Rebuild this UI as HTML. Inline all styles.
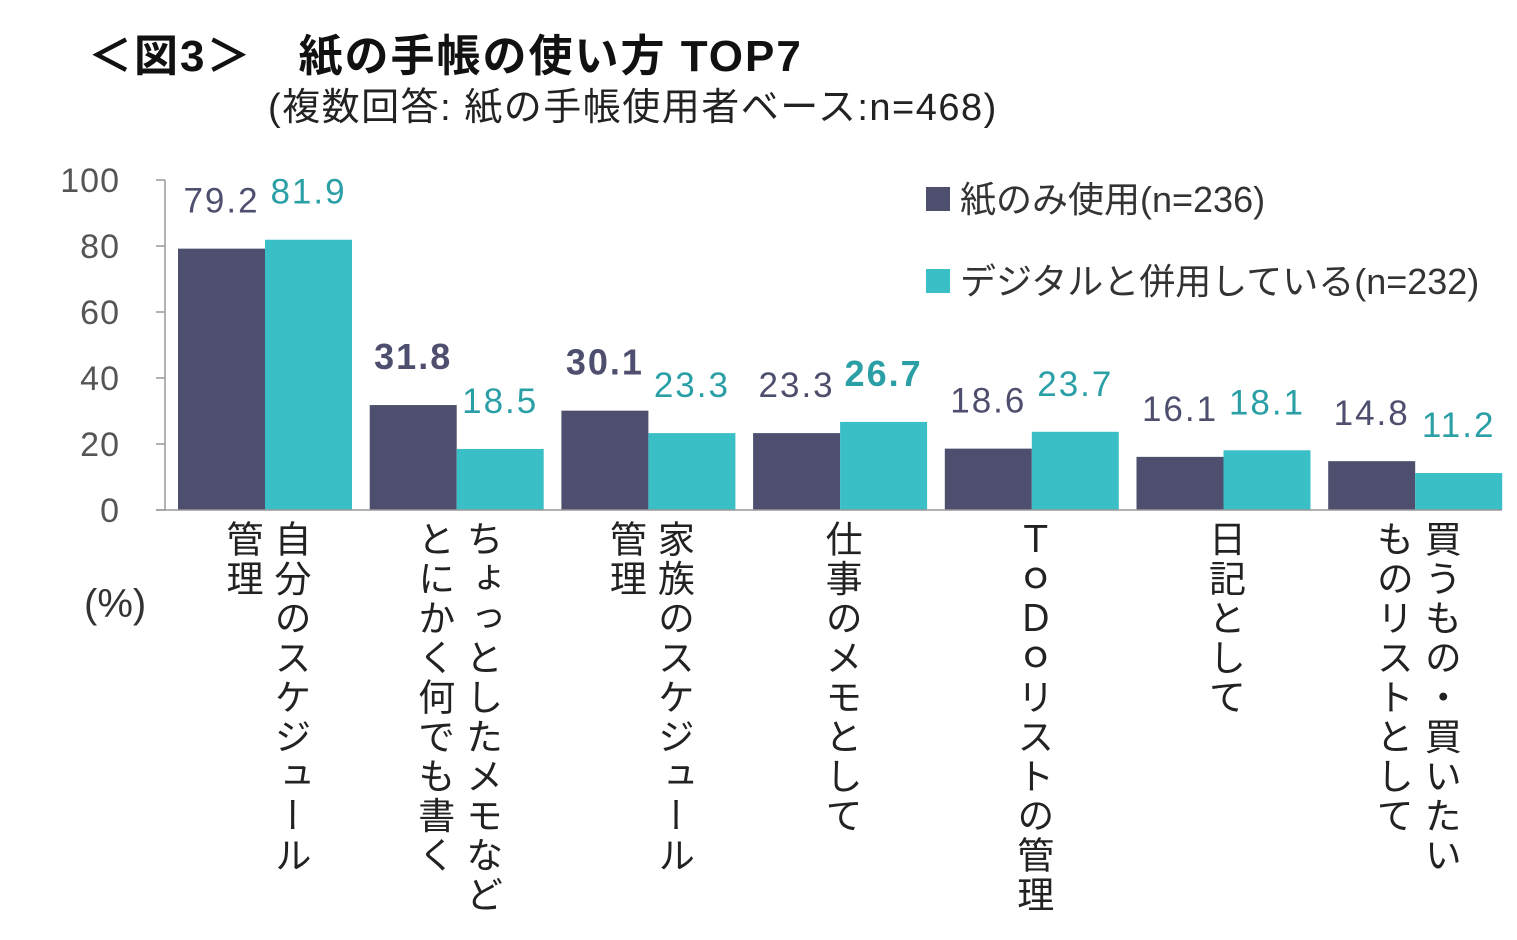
<!DOCTYPE html>
<html><head><meta charset="utf-8"><style>
body{margin:0;background:#fff;width:1517px;height:921px;overflow:hidden;font-family:"Liberation Sans","Noto Sans CJK JP",sans-serif;}
.t{position:absolute;white-space:nowrap;}
.v{position:absolute;writing-mode:vertical-rl;white-space:nowrap;height:420px;font-size:37px;line-height:49px;letter-spacing:2.5px;color:#222;top:520px;}
</style></head><body>
<div class="t" style="left:88px;top:20px;font-size:44px;font-weight:bold;color:#111;letter-spacing:2px;">＜図3＞　紙の手帳の使い方 TOP7</div>
<div class="t" style="left:268px;top:76px;font-size:38px;color:#222;letter-spacing:1.5px;">(複数回答: 紙の手帳使用者ベース:n=468)</div>
<div class="t" style="left:84px;top:582px;font-size:40px;color:#333;">(%)</div>
<svg id="chart" width="1517" height="921" style="position:absolute;left:0;top:0"></svg>
<div id="labels"></div>
<script>
const categories=[["自分のスケジュール","管理"],["ちょっとしたメモなど","とにかく何でも書く"],["家族のスケジュール","管理"],["仕事のメモとして"],["ＴｏＤｏリストの管理"],["日記として"],["買うもの・買いたい","ものリストとして"]];
const paperOnly=[79.2,31.8,30.1,23.3,18.6,16.1,14.8];
const withDigital=[81.9,18.5,23.3,26.7,23.7,18.1,11.2];
const paperBold=[false,true,true,false,false,false,false];
const digitalBold=[false,false,false,true,false,false,false];
const yTicks=[0,20,40,60,80,100];
const seriesNames=["紙のみ使用(n=236)","デジタルと併用している(n=232)"];
const C1="#4e4f6e",C2="#3bbfc6",L1="#4e4f6e",L2="#2a9fa6";
const svg=document.getElementById('chart');const NS="http://www.w3.org/2000/svg";
const y0=510,y100=180;const y=v=>y0-(v/100)*(y0-y100);
const gx=i=>178+i*191.7;const bw=87;
function mk(tag,attrs){const e=document.createElementNS(NS,tag);for(const k in attrs)e.setAttribute(k,attrs[k]);svg.appendChild(e);return e;}
let ax=mk('line',{x1:165,y1:y100,x2:165,y2:y0,stroke:'#999','stroke-width':1.5});


yTicks.forEach(t=>{
 let l=mk('line',{x1:156,x2:165,y1:y(t),y2:y(t),stroke:'#999','stroke-width':1.5});
 
 
 let tx=mk('text',{x:120,y:y(t)+12,'text-anchor':'end','font-size':34,fill:'#555','font-family':'Liberation Sans, sans-serif','letter-spacing':1});
 tx.textContent=t;
 
 
});
function lab(x,v,bold,col){let t=mk('text',{x:x,y:y(v)-36,'text-anchor':'middle','font-size':bold?36:35,'font-weight':bold?'bold':'normal',fill:col,'font-family':'Liberation Sans, sans-serif','letter-spacing':2});t.textContent=v.toFixed(1);return t;}
categories.forEach((c,i)=>{
 const x=gx(i);
 let b1=mk('rect',{x:x,y:y(paperOnly[i]),width:bw,height:y0-y(paperOnly[i]),fill:C1});
 
 
 let b2=mk('rect',{x:x+bw,y:y(withDigital[i]),width:bw,height:y0-y(withDigital[i]),fill:C2});
 
 
 let t1=lab(x+bw/2,paperOnly[i],paperBold[i],L1);
 
 
 let t2=lab(x+bw*1.5,withDigital[i],digitalBold[i],L2);
 
 
 const cx=x+bw;
 c.forEach((s,j)=>{
  const d=document.createElement('div');d.className='v';d.textContent=s;
  const colX=cx+(c.length===1?0:(j===0?24:-24));
  d.style.left=(colX-24)+'px';d.style.width='49px';
  
  
  document.getElementById('labels').appendChild(d);
 });
});
let xa=mk('line',{x1:156,x2:1502,y1:y0,y2:y0,stroke:'#999','stroke-width':1.5});


[[C1,200],[C2,282]].forEach((p,k)=>{
 let r=mk('rect',{x:926,y:p[1]-13,width:24,height:24,fill:p[0]});
 
 
 let t=mk('text',{x:960,y:p[1]+12,'font-size':36,fill:'#333','font-family':'Liberation Sans, Noto Sans CJK JP, sans-serif'});
 t.textContent=seriesNames[k];
 
 
});
</script>
</body></html>
